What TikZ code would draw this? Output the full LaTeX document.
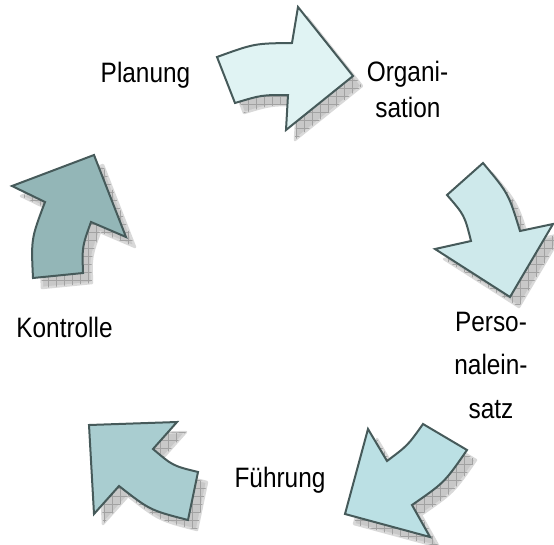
\documentclass[tikz,border=0pt]{standalone}
\usepackage{fontspec}
\setmainfont{Liberation Sans}
\usetikzlibrary{patterns.meta}

\definecolor{edgecol}{HTML}{465A5A}
\definecolor{fillA}{HTML}{E0F3F3}
\definecolor{fillB}{HTML}{CEE9EB}
\definecolor{fillC}{HTML}{BBE0E4}
\definecolor{fillD}{HTML}{A9CDD0}
\definecolor{fillE}{HTML}{93B6B7}
\definecolor{shadowcol}{HTML}{C8C8C8}
\definecolor{gridcol}{HTML}{A2A2A2}

% taller glyphs for the labels
\newcommand\tallt[1]{\scalebox{1}[1.15]{#1}}

\tikzset{
  cycarrow/.style={draw=edgecol, line width=2pt, line join=miter},
  shadowbody/.style={fill=shadowcol, draw=shadowcol!70, line width=2.5pt, line join=round},
  shadowgrid/.style={pattern={Hatch[angle=0,distance=8pt,line width=0.6pt]}, pattern color=gridcol},
  label/.style={anchor=base, inner sep=0pt, font=\fontsize{24.4}{29}\selectfont},
  % outlines of the five curved arrows
  arrPlan/.style={insert path={(217,57) .. controls (254.5,43.4) .. (292,43) -- (298,7) -- (353,76)
      -- (286,130) -- (288,95) .. controls (261.5,95) .. (235,103) -- cycle}},
  arrOrg/.style={insert path={(483,163) .. controls (508.5,193.5) .. (520,231) -- (553,224) -- (510,297)
      -- (435,249) -- (471,241) .. controls (464.5,215.2) .. (447,195) -- cycle}},
  arrPers/.style={insert path={(467,450) .. controls (444.5,482.5) .. (412,505) -- (430,537) -- (345,514)
      -- (368,429) -- (387,461) .. controls (407.9,445.3) .. (423,424) -- cycle}},
  arrFuehr/.style={insert path={(188,520) .. controls (150,510.2) .. (119,486) -- (94,514) -- (89,425)
      -- (177,422) -- (153,449) .. controls (172.8,465.8) .. (198,472) -- cycle}},
  arrKontr/.style={insert path={(33,278) .. controls (31.1,238.8) .. (45,202) -- (12,186) -- (94,155)
      -- (126,237) -- (91,222) .. controls (82.1,246.7) .. (83,273) -- cycle}},
}

\begin{document}
\begin{tikzpicture}[x=1pt, y=-1pt]
  \useasboundingbox (0,0) rectangle (554,544);

  % drop shadows
  \begin{scope}[shift={(9,10)}]
    \foreach \a in {arrPlan, arrOrg, arrPers, arrFuehr, arrKontr} {
      \path[shadowbody, \a];
      \path[shadowgrid, \a];
    }
  \end{scope}

  % arrows
  \path[cycarrow, fill=fillA, arrPlan];
  \path[cycarrow, fill=fillB, arrOrg];
  \path[cycarrow, fill=fillC, arrPers];
  \path[cycarrow, fill=fillD, arrFuehr];
  \path[cycarrow, fill=fillE, arrKontr];

  % labels
  \node[label] (planung) at (145.5,82) {\tallt{Planung}};
  \node[label] (org1) at (407.5,81) {\tallt{Organi-}};
  \node[label] (org2) at (408,117) {\tallt{sation}};
  \node[label] (pers1) at (491,331) {\tallt{Perso-}};
  \node[label] (pers2) at (491,374) {\tallt{nalein-}};
  \node[label] (pers3) at (491,418) {\tallt{satz}};
  \node[label] (fuehrung) at (280,487) {\tallt{Führung}};
  \node[label] (kontrolle) at (64.5,337) {\tallt{Kontrolle}};
\end{tikzpicture}
\end{document}
